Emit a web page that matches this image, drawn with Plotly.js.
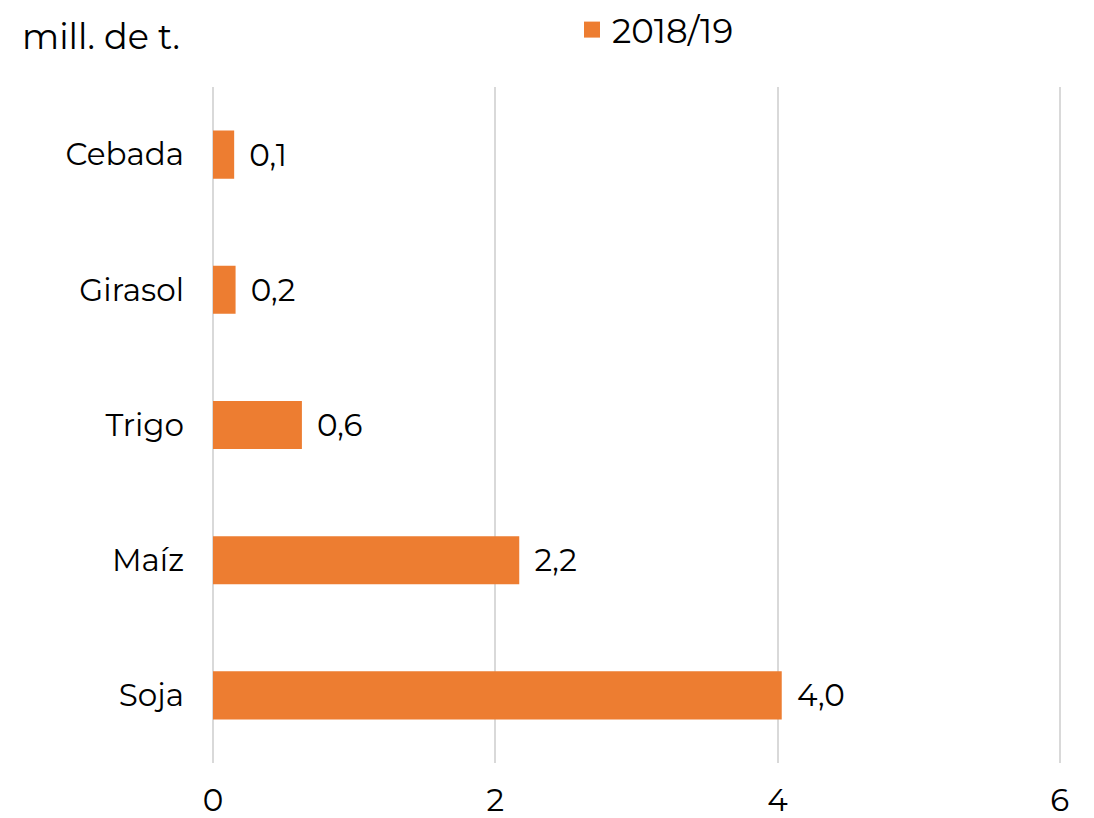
<!DOCTYPE html>
<html>
<head>
<meta charset="utf-8">
<script src="https://cdn.plot.ly/plotly-3.0.1.min.js"></script>
<style>html,body{margin:0;padding:0;background:#fff;}#chart{width:1094px;height:818px;}</style>
</head>
<body>
<div id="chart"></div>
<script>
const categories = ['Cebada', 'Girasol', 'Trigo', 'Maíz', 'Soja'];
const values2018 = [0.15, 0.16, 0.63, 2.17, 4.03];
const seriesName = '2018/19';
const xTicks = [0, 2, 4, 6];
const unitLabel = 'mill. de t.';

const FONT = 'Montserrat, "Open Sans", "Noto Sans", sans-serif';
const COLOR = '#ED7D31';
const barTrace = {
  type: 'bar',
  orientation: 'h',
  y: categories,
  x: values2018,
  name: seriesName,
  showlegend: false,
  marker: {color: COLOR},
  texttemplate: '\u00a0\u2009%{x:.1f}',
  textposition: 'outside',
  cliponaxis: false,
  textfont: {family: FONT, size: 31, color: '#000'},
  hoverinfo: 'skip'
};
// legend proxy (no data drawn)
const legendTrace = {
  type: 'scatter', mode: 'markers',
  x: [null], y: [null],
  name: seriesName,
  marker: {symbol: 'square', size: 17, color: COLOR},
  showlegend: true, hoverinfo: 'skip'
};
const layout = {
  width: 1094, height: 818,
  margin: {l: 213, r: 30, t: 87, b: 55},
  paper_bgcolor: '#fff', plot_bgcolor: '#fff',
  font: {family: FONT, size: 31, color: '#000'},
  separators: ',.',
  bargap: 0.644,
  showlegend: true,
  legend: {orientation: 'h', xref: 'container', yref: 'container', x: 572/1094, y: 1 - 1/818, xanchor: 'left', yanchor: 'top', itemwidth: 30, font: {family: FONT, size: 34, color: '#000'}, bgcolor: 'rgba(0,0,0,0)'},
  title: {text: unitLabel, xref: 'container', yref: 'container', x: 22/1094, y: 1 - 37/818, xanchor: 'left', yanchor: 'middle', font: {family: FONT, size: 35, color: '#000'}},
  xaxis: {range: [0, 6.03], tickvals: xTicks, ticktext: xTicks.map(String), showgrid: true, gridcolor: '#d9d9d9', gridwidth: 2, zeroline: true, zerolinecolor: '#d9d9d9', zerolinewidth: 2, showline: false, ticks: '', ticklabelstandoff: 16, tickfont: {family: FONT, size: 31, color: '#000'}, fixedrange: true},
  yaxis: {autorange: 'reversed', showgrid: false, zeroline: false, showline: false, ticks: '', ticklabelstandoff: 28, tickfont: {family: FONT, size: 31, color: '#000'}, fixedrange: true}
};
Plotly.newPlot('chart', [barTrace, legendTrace], layout, {displayModeBar: false, staticPlot: true});
</script>
</body>
</html>
